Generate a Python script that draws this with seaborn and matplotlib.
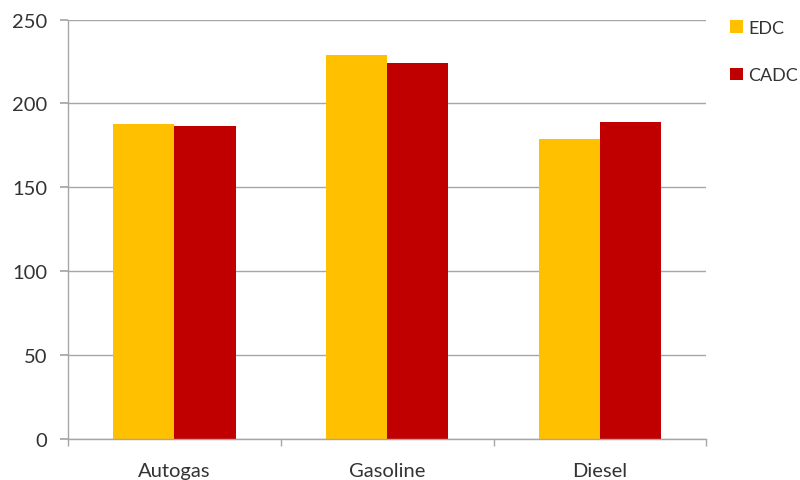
import matplotlib
matplotlib.use("Agg")
import matplotlib.pyplot as plt
import seaborn as sns
import pandas as pd
from matplotlib.patches import Patch

categories = ["Autogas", "Gasoline", "Diesel"]
edc = [188, 229, 179]
cadc = [186.5, 224, 189]
series = ["EDC", "CADC"]
colors = ["#FFC000", "#C00000"]

df = pd.DataFrame({
    "fuel": categories * 2,
    "cycle": ["EDC"] * 3 + ["CADC"] * 3,
    "value": edc + cadc,
})

sns.set_theme(style="white")
plt.rcParams["font.family"] = ["Lato", "DejaVu Sans"]

fig = plt.figure(figsize=(8, 4.81), dpi=100)
ax = fig.add_axes([0.085, 0.086, 0.798, 0.871])

sns.barplot(data=df, x="fuel", y="value", hue="cycle", order=categories,
            hue_order=series, palette=colors, width=0.575, gap=0,
            saturation=1, errorbar=None, linewidth=0, ax=ax, legend=False)

ax.set_xlim(-0.5, 2.5)
ax.set_ylim(0, 250)
ax.set_yticks(range(0, 251, 50))
ax.set_xlabel("")
ax.set_ylabel("")
ax.yaxis.grid(True, color="#A6A6A6", linewidth=1)
ax.set_axisbelow(True)

for side in ["top", "right"]:
    ax.spines[side].set_visible(False)
for side in ["left", "bottom"]:
    ax.spines[side].set_color("#A6A6A6")
    ax.spines[side].set_linewidth(1)

ax.tick_params(axis="y", which="major", left=True, length=6, color="#A6A6A6",
               labelsize=14.5, labelcolor="#333333", pad=9)
ax.tick_params(axis="x", which="major", bottom=False, labelsize=14.5,
               labelcolor="#333333", pad=11)
ax.set_xticks([-0.5, 0.5, 1.5, 2.5], minor=True)
ax.tick_params(axis="x", which="minor", bottom=True, length=5, color="#A6A6A6")

handles = [Patch(facecolor=c, edgecolor="none", label=s) for s, c in zip(series, colors)]
leg = fig.legend(handles=handles, loc="upper left", bbox_to_anchor=(0.904, 0.972),
                 frameon=False, fontsize=13, handlelength=0.72, handleheight=0.72,
                 handletextpad=0.25, labelspacing=1.75, borderaxespad=0)
for t in leg.get_texts():
    t.set_color("#333333")

fig.savefig("out.png", dpi=100)
